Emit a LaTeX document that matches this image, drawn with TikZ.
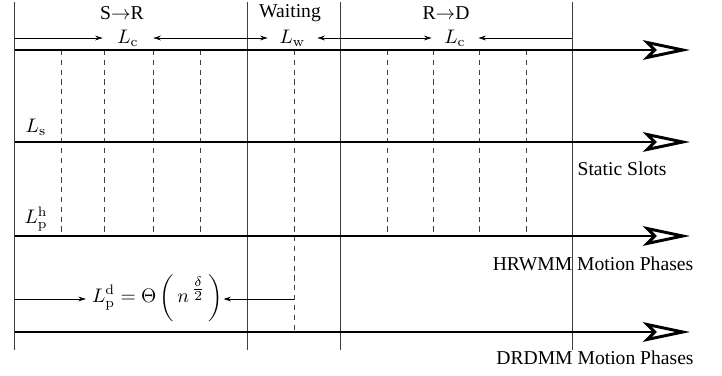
\documentclass[tikz,border=0pt]{standalone}
\usepackage{amsmath}
\usepackage[no-math]{fontspec}
\setmainfont{Liberation Serif}
\usetikzlibrary{arrows.meta}
\begin{document}
\begin{tikzpicture}[x=0.51pt,y=-0.51pt,
  timeline/.style={line width=1.5pt,-{Stealth[open,length=24pt,width=10pt,inset=5pt,line width=1.5pt]}},
  border/.style={line width=0.5pt,black!75},
  slot/.style={line width=0.5pt,black!75,dash pattern=on 2.6pt off 2.4pt},
  dim/.style={line width=0.4pt,-{Stealth[length=3.8pt,width=2.4pt]}},
  lbl/.style={inner sep=0pt,minimum height=10pt},
  txt/.style={inner sep=0pt}]
\useasboundingbox (0,0) rectangle (722,376);

% phase borders
\foreach \n/\x in {a/14,b/247,c/340,d/572}{
  \coordinate (\n t) at (\x,2);
  \coordinate (\n b) at (\x,350);
  \draw[border] (\n t) -- (\n b);
}

% slot boundaries inside the two travel phases
\foreach \x in {61,104,153,200,387,433,479,526}{
  \draw[slot] (\x,50) -- (\x,236);
}
% middle of the waiting phase
\coordinate (wt) at (294,50);
\coordinate (wb) at (294,332);
\draw[slot] (wt) -- (wb);

% time axes
\foreach \n/\y in {1/50,2/142,3/236,4/332}{
  \coordinate (s\n) at (15,\y);
  \coordinate (e\n) at (690,\y);
  \draw[timeline] (s\n) -- (e\n);
}

% phase titles
\node[txt] (t1) at (122,13) {S$\rightarrow$R};
\node[txt] (t2) at (290,13) {Waiting};
\node[txt] (t3) at (446,13) {R$\rightarrow$D};

% phase lengths
\node[lbl,minimum width=25.5pt] (lc1) at (128,38) {$L_{\mathrm{c}}$};
\node[lbl,minimum width=25pt]   (lw)  at (292.5,38) {$L_{\mathrm{w}}$};
\node[lbl,minimum width=23.5pt] (lc2) at (455,38) {$L_{\mathrm{c}}$};
\coordinate (a1) at (14,38);  \coordinate (b1) at (247,38);
\coordinate (b2) at (247,38); \coordinate (c2) at (340,38);
\coordinate (c3) at (340,38); \coordinate (d3) at (572,38);
\draw[dim] (a1) -- (lc1.west);
\draw[dim] (b1) -- (lc1.east);
\draw[dim] (b2) -- (lw.west);
\draw[dim] (c2) -- (lw.east);
\draw[dim] (c3) -- (lc2.west);
\draw[dim] (d3) -- (lc2.east);

% axis names
\node[txt] (ls) at (36,127) {$L_{\mathrm{s}}$};
\node[txt] (lph) at (36,219) {$L_{\mathrm{p}}^{\mathrm{h}}$};

% motion phase length of the second model
\node[inner sep=0pt,anchor=east] (lpd) at (223.5,298)
  {$\displaystyle L_{\mathrm{p}}^{\mathrm{d}}=\Theta\,\biggl(\,n^{\,\tfrac{\delta}{2}}\,\biggr)$};
\coordinate (a4) at (14,299);
\coordinate (w4) at (294,299);
\draw[dim] (a4) -- ([xshift=-3pt]lpd.west |- a4);
\draw[dim] (w4) -- (lpd.east |- w4);

% axis captions
\node[txt] (cap1) at (622,169) {Static Slots};
\node[txt] (cap2) at (593,264) {HRWMM Motion Phases};
\node[txt] (cap3) at (595,358) {DRDMM Motion Phases};
\end{tikzpicture}
\end{document}
